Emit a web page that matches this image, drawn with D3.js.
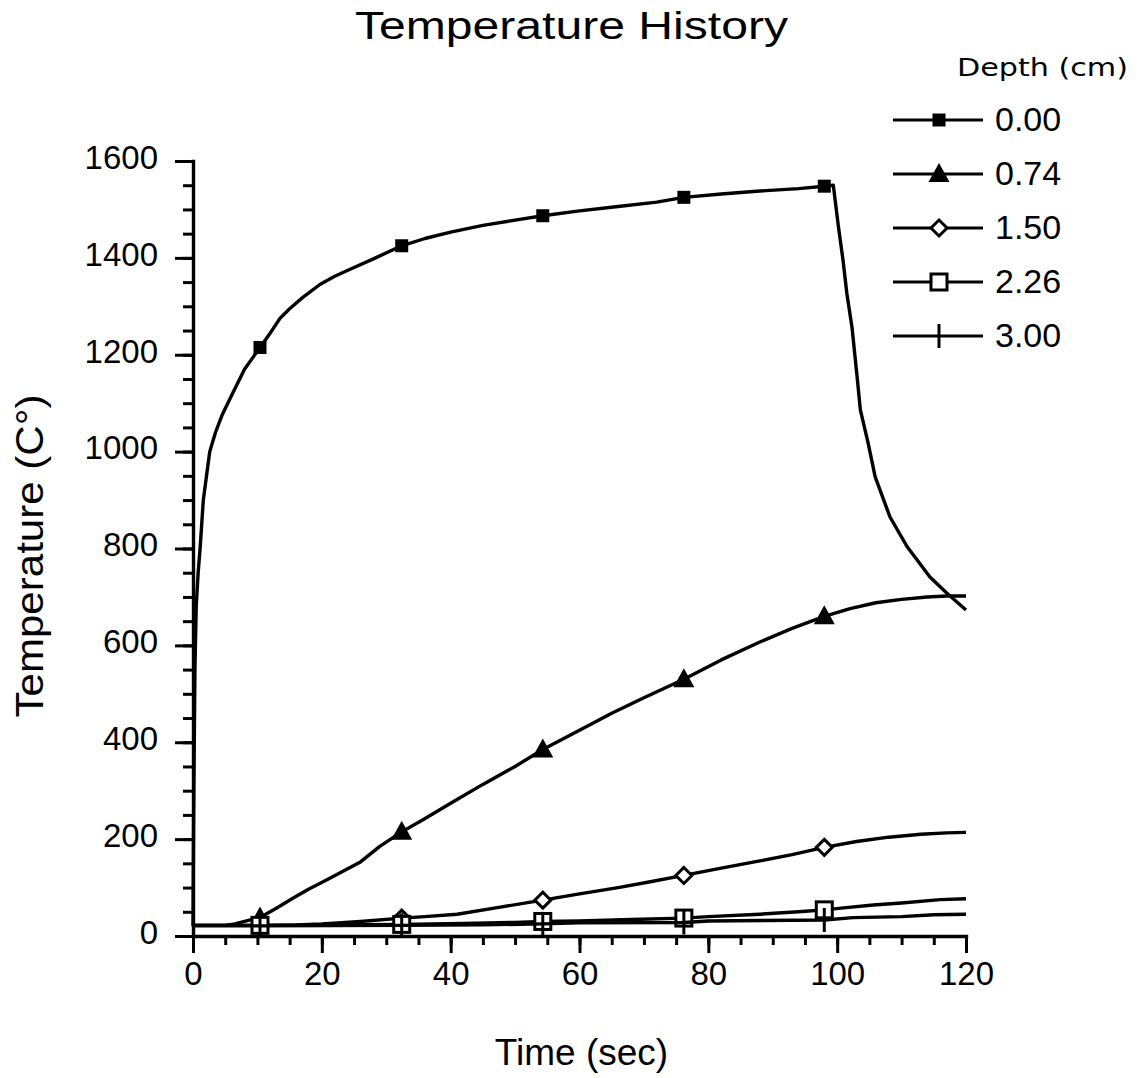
<!DOCTYPE html>
<html>
<head>
<meta charset="utf-8">
<script src="https://cdn.jsdelivr.net/npm/d3@7"></script>
<style>
  html, body { margin: 0; padding: 0; background: #fff; }
  svg { display: block; }
  text { font-family: "Liberation Sans", Arial, Helvetica, sans-serif; fill: #000; }
</style>
</head>
<body>
<svg id="chart" width="1143" height="1078"></svg>
<script>
// Depth labels shown in the legend (cm)
const depths = ["0.00", "0.74", "1.50", "2.26", "3.00"];

// Times at which each curve carries a symbol (sec)
const markerTimes = [10.4, 32.4, 54.3, 76.2, 98.0];

// Temperature history at each depth: time (sec) and temperature (C)
const time000 = [0, 0.1, 0.3, 0.5, 0.8, 1.1, 1.6, 2.1, 2.6, 3.5, 4.5, 5.4, 6.5, 8, 10.4, 12, 13.5, 15, 17, 19.7, 22, 25, 28, 32.4, 36, 40, 45, 50, 54.3, 60, 66, 72, 76.2, 82, 88, 94, 98.0, 99.4, 100.2, 100.9, 101.5, 102.3, 103.1, 103.6, 104.8, 105.9, 108.2, 110.9, 114.4, 117, 120];
const temp000 = [20, 250, 550, 680, 750, 800, 900, 950, 1000, 1040, 1075, 1100, 1130, 1170, 1215, 1245, 1275, 1295, 1318, 1345, 1362, 1380, 1398, 1425, 1440, 1453, 1467, 1478, 1487, 1497, 1506, 1515, 1525, 1532, 1538, 1543, 1548, 1550, 1464, 1396, 1327, 1257, 1154, 1086, 1018, 948, 865, 803, 741, 708, 673];

const time074 = [0, 5, 6.5, 8, 10.4, 13, 15.5, 18, 20.8, 23.5, 26, 29, 32.4, 35.7, 40, 45, 50, 54.3, 60, 65, 70, 76.2, 82, 88, 93, 98.0, 102, 106, 110, 114, 117, 120];
const temp074 = [22, 22, 25, 30, 38, 58, 78, 97, 116, 135, 153, 185, 215, 240, 274, 313, 350, 385, 425, 460, 492, 530, 570, 607, 635, 660, 676, 688, 695, 700, 702, 702];

const time150 = [0, 10.4, 16, 20, 26, 32.4, 36, 41, 47, 54.3, 60, 66, 71, 76.2, 82, 88, 93, 98.0, 103, 108, 113, 117, 120];
const temp150 = [22, 22, 23, 25, 30, 37, 40, 45, 58, 74, 87, 100, 112, 125, 140, 155, 168, 183, 195, 204, 210, 213, 214];

const time226 = [0, 10.4, 20, 32.4, 42, 50, 54.3, 60, 68, 76.2, 80, 88, 94, 98.0, 101, 105.6, 110, 116, 120];
const temp226 = [22, 22, 23, 24, 26, 28, 30, 31, 34, 37, 40, 45, 50, 54, 58, 64, 68, 75, 77];

const time300 = [0, 10.4, 32.4, 45, 54.3, 60, 76.2, 80, 98.0, 102.5, 110, 115, 120];
const temp300 = [21, 21, 22, 23, 25, 27, 28, 31, 33, 38, 40, 44, 45];

// Axis ticks
const xTicks = [0, 20, 40, 60, 80, 100, 120];
const xMinorTicks = d3.range(0, 121, 5);
const yTicks = [0, 200, 400, 600, 800, 1000, 1200, 1400, 1600];
const yMinorTicks = d3.range(0, 1601, 50);

const seriesTimes = [time000, time074, time150, time226, time300];
const seriesTemps = [temp000, temp074, temp150, temp226, temp300];
const symbols = ["squareFilled", "triangle", "diamond", "squareOpen", "vbar"];

const series = depths.map((d, i) => ({
  depth: d,
  symbol: symbols[i],
  points: seriesTimes[i].map((t, j) => ({ t, v: seriesTemps[i][j] }))
}));

const svg = d3.select("#chart");
const x = d3.scaleLinear().domain([0, 120]).range([193, 966]);
const y = d3.scaleLinear().domain([0, 1600]).range([936, 161]);
const SW = 3.4;

// Minor ticks
svg.append("g")
  .attr("transform", `translate(0,${y(0)})`)
  .call(d3.axisBottom(x).tickValues(xMinorTicks).tickSize(9).tickSizeOuter(0).tickFormat(""))
  .call(g => g.select(".domain").remove())
  .call(g => g.selectAll("line").attr("stroke-width", 3));
svg.append("g")
  .attr("transform", `translate(${x(0)},0)`)
  .call(d3.axisLeft(y).tickValues(yMinorTicks).tickSize(10).tickSizeOuter(0).tickFormat(""))
  .call(g => g.select(".domain").remove())
  .call(g => g.selectAll("line").attr("stroke-width", 3));

// Major ticks and labels
const xAxis = svg.append("g")
  .attr("transform", `translate(0,${y(0)})`)
  .call(d3.axisBottom(x).tickValues(xTicks).tickFormat(d3.format("d"))
    .tickSize(17).tickPadding(9).tickSizeOuter(0));
const yAxis = svg.append("g")
  .attr("transform", `translate(${x(0)},0)`)
  .call(d3.axisLeft(y).tickValues(yTicks).tickFormat(d3.format("d"))
    .tickSize(18).tickPadding(17).tickSizeOuter(0));

[xAxis, yAxis].forEach(g => {
  g.select(".domain").attr("stroke-width", SW).attr("stroke-linecap", "square");
  g.selectAll(".tick line").attr("stroke-width", 3);
  g.selectAll(".tick text")
    .attr("font-family", "Liberation Sans, Arial, sans-serif")
    .attr("font-size", 33)
    .attr("fill", "#000");
});
yAxis.selectAll(".tick text").attr("dy", "0.22em");

// Symbol drawing
function drawSymbol(g, kind, cx, cy) {
  if (kind === "squareFilled") {
    g.append("rect").attr("x", cx - 6.5).attr("y", cy - 6.5).attr("width", 13).attr("height", 13)
      .attr("fill", "#000");
  } else if (kind === "triangle") {
    g.append("path")
      .attr("d", `M${cx},${cy - 11}L${cx + 10.5},${cy + 8}L${cx - 10.5},${cy + 8}Z`)
      .attr("fill", "#000");
  } else if (kind === "diamond") {
    g.append("path")
      .attr("d", `M${cx},${cy - 8}L${cx + 8},${cy}L${cx},${cy + 8}L${cx - 8},${cy}Z`)
      .attr("fill", "#fff").attr("stroke", "#000").attr("stroke-width", 3);
  } else if (kind === "squareOpen") {
    g.append("rect").attr("x", cx - 8).attr("y", cy - 8).attr("width", 16).attr("height", 16)
      .attr("fill", "#fff").attr("stroke", "#000").attr("stroke-width", 3);
  } else if (kind === "vbar") {
    g.append("line").attr("x1", cx).attr("x2", cx).attr("y1", cy - 12).attr("y2", cy + 12)
      .attr("stroke", "#000").attr("stroke-width", 3);
  }
}

const line = d3.line().x(d => x(d.t)).y(d => y(d.v)).curve(d3.curveLinear);

// Curves with their symbols, drawn one depth at a time
const plot = svg.append("g");
series.forEach(s => {
  const g = plot.append("g");
  g.append("path")
    .datum(s.points)
    .attr("d", line)
    .attr("fill", "none")
    .attr("stroke", "#000")
    .attr("stroke-width", SW)
    .attr("stroke-linejoin", "round");
  s.points.filter(p => markerTimes.includes(p.t))
    .forEach(p => drawSymbol(g, s.symbol, x(p.t), y(p.v)));
});

// Title
svg.append("text")
  .attr("x", 571.5).attr("y", 39)
  .attr("text-anchor", "middle")
  .attr("font-size", 38)
  .attr("textLength", 433)
  .attr("lengthAdjust", "spacingAndGlyphs")
  .text("Temperature History");

// Axis titles
svg.append("text")
  .attr("x", 581.5).attr("y", 1065)
  .attr("text-anchor", "middle")
  .attr("font-size", 37)
  .text("Time (sec)");

svg.append("text")
  .attr("transform", "translate(43,556) rotate(-90)")
  .attr("text-anchor", "middle")
  .attr("font-size", 38)
  .attr("textLength", 323)
  .attr("lengthAdjust", "spacingAndGlyphs")
  .text("Temperature (C°)");

// Legend
const legend = svg.append("g");
legend.append("text")
  .attr("x", 957).attr("y", 76)
  .style("font-family", "'DejaVu Sans', Verdana, sans-serif")
  .attr("font-size", 25)
  .attr("textLength", 171)
  .attr("lengthAdjust", "spacingAndGlyphs")
  .text("Depth (cm)");

const legendRowY = d3.scalePoint().domain(depths).range([120, 336]);
series.forEach(s => {
  const ly = legendRowY(s.depth);
  const g = legend.append("g");
  g.append("line").attr("x1", 893).attr("x2", 983).attr("y1", ly).attr("y2", ly)
    .attr("stroke", "#000").attr("stroke-width", 3);
  drawSymbol(g, s.symbol, 939, ly);
  g.append("text")
    .attr("x", 995).attr("y", ly + 11)
    .attr("font-size", 34)
    .text(s.depth);
});
</script>
</body>
</html>
